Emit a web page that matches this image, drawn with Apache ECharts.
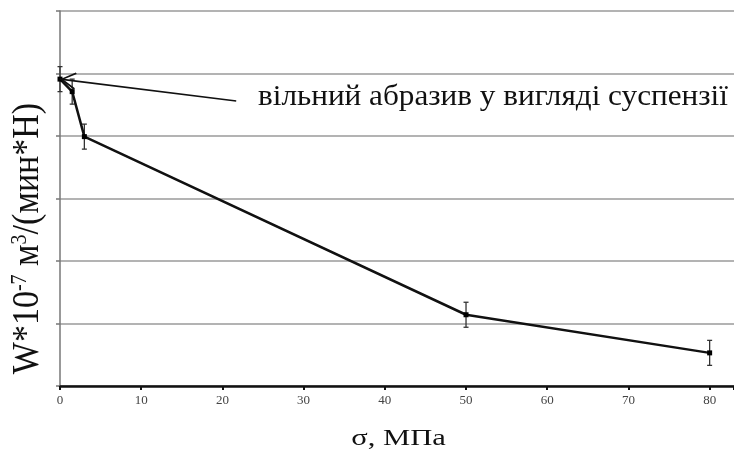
<!DOCTYPE html>
<html>
<head>
<meta charset="utf-8">
<script src="https://cdn.jsdelivr.net/npm/echarts@6/dist/echarts.min.js"></script>
<style>
  html, body { margin: 0; padding: 0; background: #fff; }
  #chart { width: 734px; height: 452px; }
</style>
</head>
<body>
<div id="chart"></div>
<script>
// Wear rate vs. applied pressure
const sigma = [0, 1.5, 3, 50, 80];             // σ, МПа
const wear = [4.91, 4.71, 3.99, 1.14, 0.53];   // W*10^-7 м³/(мин*Н)
const wearErr = [0.2, 0.2, 0.2, 0.2, 0.2];     // ± error
const xTickValues = [0, 10, 20, 30, 40, 50, 60, 70, 80];

// Axis titles
const xTitle = 'σ, МПа';
const yTitle = 'W*10{sup|-7} м{sup|3}/(мин*Н)';

// Callout pointing at the first point
const noteText = 'вільний абразив у вигляді суспензії';
const noteTail = [21.7, 4.56];

const serif = '"Liberation Serif", "DejaVu Serif", serif';

// Open arrowhead; an empty sub-path balances the box so the tip sits on the anchor
const openArrow = 'path://M10,-20 L10.01,-20 Z M10,0 L20,18.6 L18.4,20 L10,4.2 L1.6,20 L0,18.6 Z';

const chart = echarts.init(document.getElementById('chart'));

const errData = sigma.map((s, i) => [s, wear[i], wearErr[i]]);

chart.setOption({
  animation: false,
  backgroundColor: '#fff',
  grid: { left: 60, right: 0, top: 11, bottom: 66, containLabel: false, outerBoundsMode: 'none' },
  xAxis: {
    type: 'value',
    min: 0,
    max: 83,
    interval: 10,
    axisLine: { onZero: false, lineStyle: { color: '#111', width: 2.5 } },
    axisTick: { show: true, length: 4, lineStyle: { color: '#111', width: 2 } },
    axisLabel: {
      margin: 8,
      fontFamily: serif,
      fontSize: 13,
      color: '#444',
      formatter: v => (xTickValues.indexOf(v) >= 0 ? String(v) : '')
    },
    splitLine: { show: false }
  },
  yAxis: {
    type: 'value',
    min: 0,
    max: 6,
    interval: 1,
    axisLine: { show: true, lineStyle: { color: '#777', width: 1.5 } },
    axisTick: { show: true, length: 4, lineStyle: { color: '#777', width: 1.5 } },
    axisLabel: { show: false },
    splitLine: { show: true, lineStyle: { color: '#9a9a9a', width: 1.5 } }
  },
  graphic: [
    {
      type: 'text',
      x: 258,
      y: 97,
      scaleX: 1.04,
      style: {
        text: noteText, fontFamily: serif, fontSize: 30, fill: '#111',
        textAlign: 'left', textVerticalAlign: 'middle'
      }
    },
    {
      type: 'text',
      x: 398.5,
      y: 439,
      scaleX: 1.33,
      style: {
        text: xTitle, fontFamily: serif, fontSize: 23, fill: '#111',
        textAlign: 'center', textVerticalAlign: 'middle'
      }
    },
    {
      type: 'text',
      x: 28,
      y: 238.5,
      rotation: Math.PI / 2,
      scaleY: 1.12,
      style: {
        text: yTitle, fontFamily: serif, fontSize: 34, fill: '#111',
        textAlign: 'center', textVerticalAlign: 'middle',
        rich: {
          sup: { fontFamily: serif, fontSize: 20, fill: '#111', verticalAlign: 'top' }
        }
      }
    }
  ],
  series: [
    {
      type: 'custom',
      z: 2,
      data: errData,
      encode: { x: 0, y: 1 },
      renderItem(params, api) {
        const x = api.value(0), y = api.value(1), e = api.value(2);
        const hi = api.coord([x, y + e]);
        const lo = api.coord([x, y - e]);
        const cap = 2.5;
        const st = { stroke: '#333', lineWidth: 1.3 };
        return {
          type: 'group',
          children: [
            { type: 'line', shape: { x1: hi[0], y1: hi[1], x2: lo[0], y2: lo[1] }, style: st },
            { type: 'line', shape: { x1: hi[0] - cap, y1: hi[1], x2: hi[0] + cap, y2: hi[1] }, style: st },
            { type: 'line', shape: { x1: lo[0] - cap, y1: lo[1], x2: lo[0] + cap, y2: lo[1] }, style: st }
          ]
        };
      }
    },
    {
      type: 'line',
      z: 3,
      data: sigma.map((s, i) => [s, wear[i]]),
      symbol: 'rect',
      symbolSize: 5,
      showSymbol: true,
      itemStyle: { color: '#000' },
      lineStyle: { color: '#111', width: 2.5 },
      markLine: {
        silent: true,
        animation: false,
        label: { show: false },
        lineStyle: { color: '#111', width: 1.6, type: 'solid' },
        data: [[
          { coord: noteTail, symbol: 'none' },
          { coord: [sigma[0], wear[0]], symbol: openArrow, symbolSize: [17, 32] }
        ]]
      }
    }
  ]
});
</script>
</body>
</html>
